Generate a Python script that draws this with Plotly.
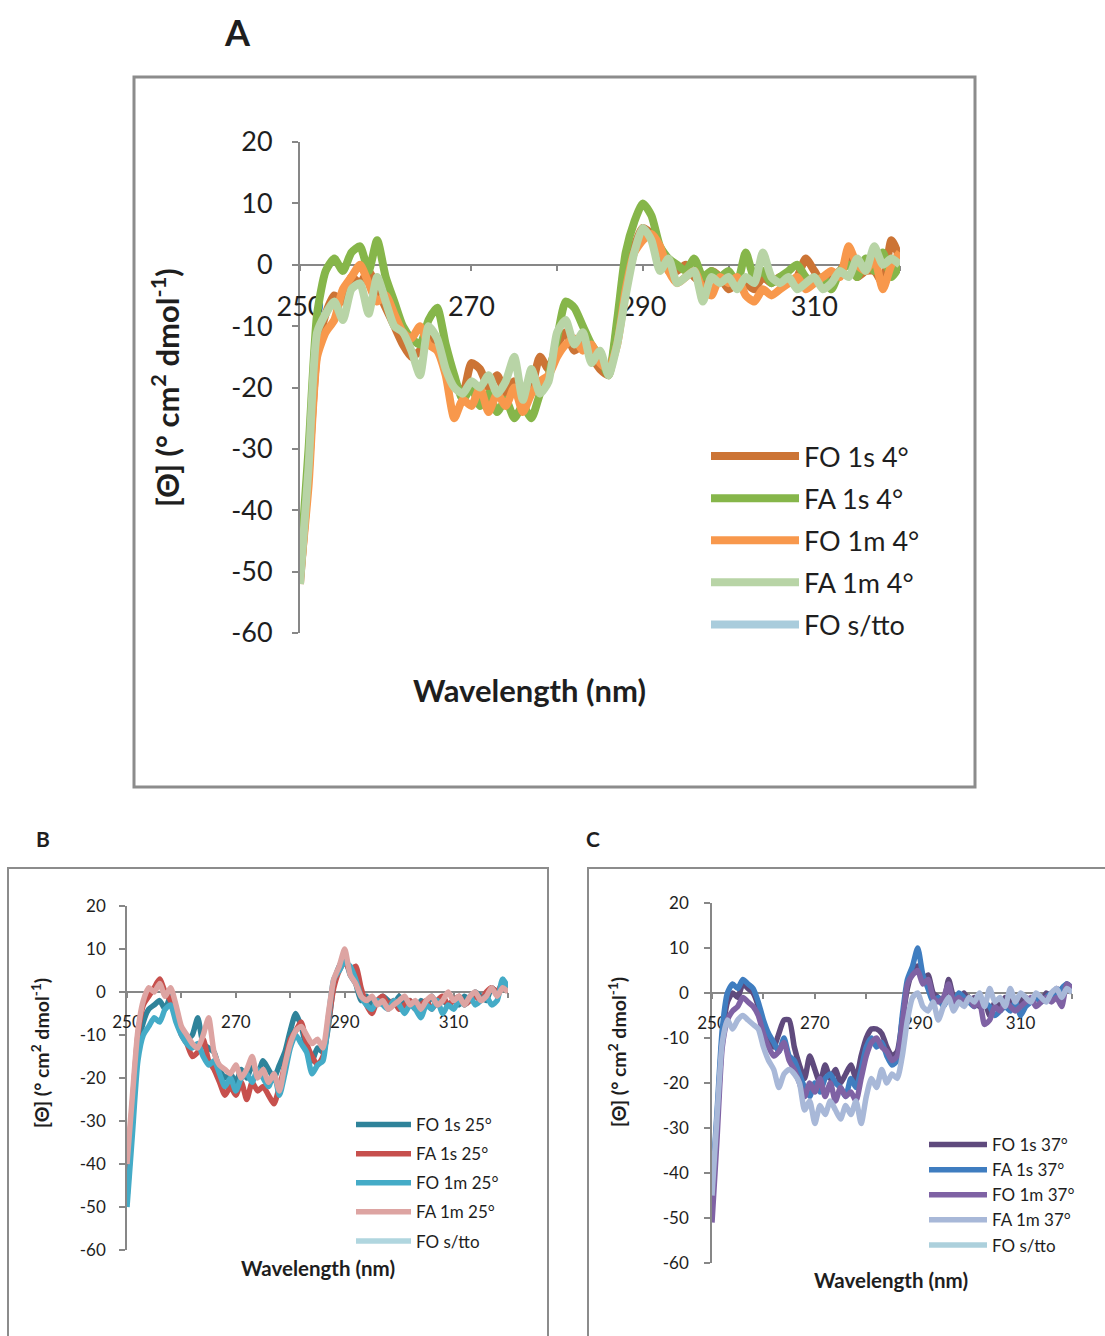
import plotly.graph_objects as go

# Wavelength grid (nm)
wavelength = list(range(250, 321))

# ---- Panel A: 4 °C ----
a_fo_1s = [-52, -34, -14, -8, -5, -6, -2, -3, -1, -4, -7, -10, -13, -15, -14, -12, -13, -17, -19, -21,
           -16, -17, -20, -18, -21, -19, -22, -20, -15, -17, -13, -11, -14, -13, -15, -17, -18, -10, -1, 3,
           6, 5, 2, -1, -1, 0, -2, -3, -1, -2, -4, -3, -3, -4, -2, -3, -2, -3, -2, 1,
           -1, -3, -2, -1, 1, -2, -1, -1, -3, 4, 1]
a_fa_1s = [-50, -30, -8, -1, 1, -1, 2, 3, -1, 4, -2, -6, -10, -12, -13, -9, -7, -13, -18, -22,
           -20, -23, -21, -24, -22, -25, -23, -25, -21, -18, -12, -6, -7, -10, -13, -15, -18, -9, 2, 7,
           10, 8, 3, 1, 0, -1, 1, -2, -1, -2, -1, -3, 2, -2, -1, -3, -2, -1, 0, -2,
           -3, -2, -4, -1, 0, -2, 1, -1, 2, -2, 0]
a_fo_1m = [-51, -36, -15, -11, -9, -4, -2, 0, -3, -6, -5, -8, -11, -12, -10, -13, -14, -18, -25, -22,
           -23, -20, -24, -21, -23, -20, -24, -21, -19, -18, -15, -13, -12, -14, -13, -16, -17, -13, -4, 2,
           4, 5, 3, -1, -3, -2, -1, -4, -5, -2, -3, -2, -5, -6, -4, -5, -4, -3, -2, -4,
           -3, -2, -1, -2, 3, 0, -1, 1, -4, 0, 2]
a_fa_1m = [-52, -33, -11, -8, -6, -9, -4, -3, -8, -2, -6, -10, -11, -14, -18, -10, -12, -17, -20, -21,
           -19, -20, -18, -21, -19, -15, -22, -17, -21, -19, -11, -9, -13, -11, -16, -14, -18, -13, -5, 2,
           6, 4, -1, 1, -3, -2, -1, -6, -2, -3, -2, -4, -2, -3, 2, -2, -3, -2, -4, -3,
           -2, -4, -3, -1, -2, 1, -1, 3, 0, 1, 0]

# ---- Panel B: 25 °C ----
b_fo_1s = [-48, -30, -13, -7, -4, -3, -2, -4, -1, -6, -9, -11, -10, -6, -12, -13, -14, -18, -20, -19,
           -21, -18, -20, -17, -19, -16, -18, -20, -17, -14, -9, -5, -8, -13, -16, -13, -14, -8, 2, 6,
           8, 4, 2, -2, -1, -3, -2, -1, -2, -3, -1, -3, -2, -4, -2, -3, -1, -3, -2, -3,
           -2, -3, -1, -2, 0, -1, -2, 1, 0, 1, 2]
b_fa_1s = [-42, -26, -10, -3, -1, 1, 3, 0, -2, -5, -10, -12, -15, -14, -11, -16, -18, -21, -24, -22,
           -24, -21, -25, -21, -23, -22, -24, -26, -22, -17, -11, -9, -7, -12, -15, -17, -15, -7, 1, 5,
           7, 5, 6, 1, -3, -5, -2, -1, -3, -2, -4, -3, -2, -4, -3, -2, -4, -2, -1, -3,
           -2, -1, -3, -2, -1, -2, 0, 1, 0, 2, 0]
b_fo_1m = [-50, -33, -16, -10, -8, -6, -7, -4, -3, -7, -10, -12, -13, -12, -15, -17, -16, -19, -22, -20,
           -23, -20, -19, -21, -18, -20, -22, -19, -24, -19, -13, -10, -12, -14, -19, -17, -16, -6, 3, 5,
           7, 6, 3, -1, -3, -4, -2, -3, -4, -2, -3, -5, -3, -4, -6, -3, -4, -2, -5, -3,
           -4, -2, -3, -1, -3, -2, -1, -3, -2, 3, 1]
b_fa_1m = [-40, -24, -9, -2, 1, 0, 2, -1, 1, -3, -8, -10, -12, -13, -10, -6, -14, -17, -18, -19,
           -17, -20, -18, -15, -20, -18, -21, -19, -23, -17, -12, -9, -8, -10, -12, -11, -13, -5, 3, 6,
           10, 4, 2, -1, -2, -1, -3, -2, -4, -3, -2, -1, -3, -2, -4, -2, -1, -3, -2, 0,
           -2, -1, -3, -1, 0, -2, -1, 1, -1, 1, 0]

# ---- Panel C: 37 °C ----
c_fo_1s = [-46, -28, -10, -2, 0, -1, 2, 1, 0, -3, -8, -10, -12, -9, -6, -6, -12, -16, -19, -14,
           -17, -20, -16, -19, -17, -20, -18, -16, -19, -14, -10, -8, -8, -9, -12, -14, -13, -6, 1, 5,
           6, 3, 4, 0, -1, -2, 3, -1, -2, 0, -2, -1, -3, -2, -5, -2, -3, -1, -2, -3,
           -2, -1, -2, -1, -2, 0, -1, 1, 0, 2, 1]
c_fa_1s = [-44, -26, -8, 0, 2, 1, 3, 2, 1, -2, -6, -9, -11, -13, -10, -14, -15, -18, -21, -23,
           -20, -22, -19, -18, -20, -21, -23, -19, -21, -17, -12, -10, -12, -11, -14, -16, -15, -5, 3, 6,
           10, 4, 1, -2, -1, -3, -1, -2, 0, -1, -2, -3, -1, -2, -3, -5, -4, -3, -4, -2,
           -5, -3, -2, -1, -2, -1, 0, -1, 1, 2, 1]
c_fo_1m = [-51, -32, -12, -6, -4, -3, -1, -2, -3, -5, -9, -12, -14, -13, -11, -15, -17, -20, -23, -20,
           -22, -19, -23, -20, -24, -21, -23, -22, -24, -19, -14, -11, -10, -12, -13, -15, -14, -7, 2, 4,
           5, 2, 3, -1, -2, -1, 2, -2, -1, -2, -1, -3, -2, -7, -6, -3, -4, -2, -3, -4,
           -3, -2, -1, -3, -2, -1, -2, -1, -3, 2, 1]
c_fa_1m = [-45, -27, -11, -6, -8, -6, -5, -6, -7, -8, -12, -15, -17, -21, -18, -17, -18, -20, -26, -24,
           -29, -25, -27, -24, -26, -28, -25, -27, -24, -29, -23, -19, -21, -17, -20, -18, -19, -14, -6, -1,
           0, -3, -4, -2, -6, -3, -1, -4, -2, -3, -1, -2, 0, -3, 1, -2, -1, -3, 1, -2,
           0, -1, -2, 0, -1, -2, 0, 1, -1, 1, 0]

# Untreated control: listed in each legend, no recorded points drawn
control = [None] * len(wavelength)

x_tickvals = list(range(250, 330, 10))
x_ticktext = ["250", "", "270", "", "290", "", "310", ""]
y_tickvals = list(range(-60, 30, 10))
y_ticktext = [str(v) for v in y_tickvals]

FONT = "Lato"
TXT = "#1e1e1e"
AXC = "#878787"

panels = [
    dict(
        key="", legend="legend", lw=8,
        series=[("FO 1s 4°", a_fo_1s, "#CC7435"),
                ("FA 1s 4°", a_fa_1s, "#86B64A"),
                ("FO 1m 4°", a_fo_1m, "#F8984C"),
                ("FA 1m 4°", a_fa_1m, "#B8D4A6"),
                ("FO s/tto", control, "#A9CCDC")],
    ),
    dict(
        key="2", legend="legend2", lw=5.5,
        series=[("FO 1s 25°", b_fo_1s, "#2F839A"),
                ("FA 1s 25°", b_fa_1s, "#C7504D"),
                ("FO 1m 25°", b_fo_1m, "#44ABC7"),
                ("FA 1m 25°", b_fa_1m, "#DDA4A2"),
                ("FO s/tto", control, "#B0D6DF")],
    ),
    dict(
        key="3", legend="legend3", lw=5.5,
        series=[("FO 1s 37°", c_fo_1s, "#5F4A7D"),
                ("FA 1s 37°", c_fa_1s, "#3F7DC0"),
                ("FO 1m 37°", c_fo_1m, "#7F62A4"),
                ("FA 1m 37°", c_fa_1m, "#A8B8D8"),
                ("FO s/tto", control, "#ACD0DC")],
    ),
]

fig = go.Figure()
for p_i, p in enumerate(panels):
    for s_i, (name, vals, color) in enumerate(p["series"]):
        fig.add_trace(go.Scatter(
            x=wavelength[:len(vals)], y=vals, mode="lines", name=name,
            line=dict(color=color, width=p["lw"], shape="spline", smoothing=0.6),
            xaxis="x" + p["key"], yaxis="y" + p["key"],
            legend=p["legend"], legendgroup=f"g{p_i}_{s_i}",
            hoverinfo="skip",
        ))

H = 1336.0
W = 1105.0


def px(v):
    return v / W


def py(v):
    return 1 - v / H


def xaxis_cfg(x0, x1, ypos, size, lw, standoff):
    return dict(
        domain=[px(x0), px(x1)], range=[250, 320], anchor="free", position=py(ypos),
        tickvals=x_tickvals, ticktext=x_ticktext, ticks="outside", ticklen=5,
        tickcolor=AXC, tickwidth=lw, showline=True, linecolor=AXC, linewidth=lw,
        showgrid=False, zeroline=False, tickfont=dict(family=FONT, size=size, color=TXT),
        ticklabelstandoff=standoff, layer="below traces", fixedrange=True,
    )


def yaxis_cfg(y0, y1, anchor, size, lw, standoff):
    return dict(
        domain=[py(y1), py(y0)], range=[-60, 20], anchor=anchor,
        tickvals=y_tickvals, ticktext=y_ticktext, ticks="outside", ticklen=6,
        tickcolor=AXC, tickwidth=lw, showline=True, linecolor=AXC, linewidth=lw,
        showgrid=False, zeroline=False, tickfont=dict(family=FONT, size=size, color=TXT),
        ticklabelstandoff=standoff, layer="below traces", fixedrange=True,
    )


layout = dict(
    width=1105, height=1336, margin=dict(l=0, r=0, t=0, b=0, pad=0, autoexpand=False),
    paper_bgcolor="white", plot_bgcolor="rgba(0,0,0,0)", showlegend=True,
    xaxis=xaxis_cfg(300, 900, 265, 27, 2, 13),
    yaxis=yaxis_cfg(142, 633, "x", 27, 2, 14),
    xaxis2=xaxis_cfg(127, 508, 992, 17, 1.5, 10),
    yaxis2=yaxis_cfg(906, 1250, "x2", 17, 1.5, 10),
    xaxis3=xaxis_cfg(712, 1072, 993, 17, 1.5, 10),
    yaxis3=yaxis_cfg(903, 1263, "x3", 17, 1.5, 12),
    legend=dict(x=px(706), y=py(432), xanchor="left", yanchor="top", itemwidth=88,
                font=dict(family=FONT, size=27, color=TXT), tracegroupgap=4,
                traceorder="grouped", bgcolor="rgba(0,0,0,0)"),
    legend2=dict(x=px(351), y=py(1107), xanchor="left", yanchor="top", itemwidth=55,
                 font=dict(family=FONT, size=17, color=TXT), tracegroupgap=4,
                 traceorder="grouped", bgcolor="rgba(0,0,0,0)"),
    legend3=dict(x=px(924), y=py(1127), xanchor="left", yanchor="top", itemwidth=58,
                 font=dict(family=FONT, size=17, color=TXT), tracegroupgap=0,
                 traceorder="grouped", bgcolor="rgba(0,0,0,0)"),
)
fig.update_layout(**layout)

# Frames around each panel
frames = [
    dict(x0=134, x1=975, y0=77, y1=787, w=3),
    dict(x0=8, x1=548, y0=868, y1=1345, w=2),
    dict(x0=588, x1=1115, y0=868, y1=1345, w=2),
]
for f in frames:
    fig.add_shape(type="rect", xref="paper", yref="paper",
                  x0=px(f["x0"]), x1=px(f["x1"]), y0=py(f["y1"]), y1=py(f["y0"]),
                  line=dict(color="#8c8c8c", width=f["w"]), fillcolor="rgba(0,0,0,0)", layer="below")

ytitle = "<b>[Θ] (° cm<sup>2</sup> dmol<sup>-1</sup>)</b>"
notes = [
    dict(text="<b>Wavelength (nm)</b>", x=529, y=690, size=31, angle=0),
    dict(text=ytitle, x=165, y=388, size=31, angle=-90),
    dict(text="<b>Wavelength (nm)</b>", x=318, y=1268, size=20.5, angle=0),
    dict(text=ytitle, x=40, y=1053, size=19.5, angle=-90),
    dict(text="<b>Wavelength (nm)</b>", x=891, y=1280, size=20.5, angle=0),
    dict(text=ytitle, x=617, y=1052, size=19.5, angle=-90),
    dict(text="<b>A</b>", x=237, y=32, size=36, angle=0),
    dict(text="<b>B</b>", x=43, y=838, size=21, angle=0),
    dict(text="<b>C</b>", x=593, y=838, size=21, angle=0),
]
for n in notes:
    fig.add_annotation(text=n["text"], x=px(n["x"]), y=py(n["y"]), xref="paper", yref="paper",
                       xanchor="center", yanchor="middle", showarrow=False, textangle=n["angle"],
                       font=dict(family=FONT, size=n["size"], color=TXT))

fig.write_html("out.html")
